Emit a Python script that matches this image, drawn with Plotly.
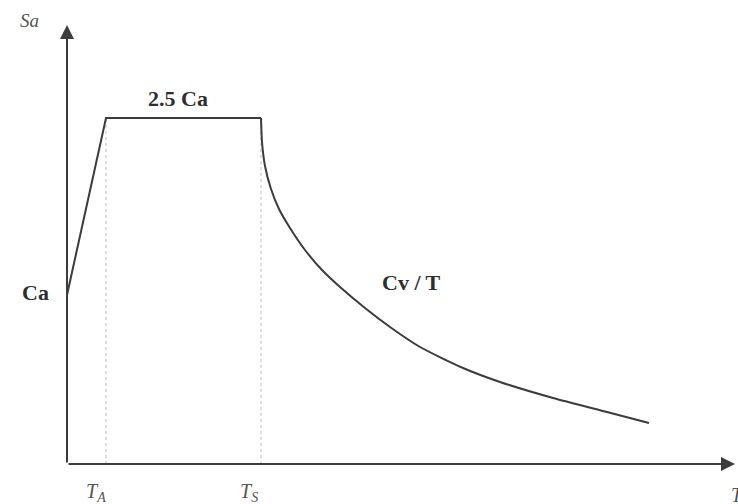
import plotly.graph_objects as go

# Design response spectrum (arbitrary units: period T vs spectral acceleration Sa)
ca_level = 1.69          # Sa at T = 0
plateau_level = 3.46     # 2.5 Ca
t_a = 0.39
t_s = 1.94

# Descending branch Cv / T, sampled points
curve_t = [1.94, 1.95, 1.98, 2.04, 2.12, 2.23, 2.38, 2.55, 2.73, 2.98, 3.23,
           3.53, 3.96, 4.33, 4.86, 5.40, 5.82]
curve_sa = [3.46, 3.22, 2.98, 2.75, 2.55, 2.36, 2.14, 1.94, 1.77, 1.56, 1.37,
            1.17, 0.96, 0.82, 0.66, 0.52, 0.41]

x_end = 6.68
y_end = 4.39

line_col = "#3c3c3c"
text_col = "#2e2e2e"
serif = "Liberation Serif, Times New Roman, serif"

fig = go.Figure()

# Guide lines at T_A and T_S
for t in (t_a, t_s):
    fig.add_trace(go.Scatter(x=[t, t], y=[0, plateau_level], mode="lines",
                             line=dict(color="#c9c9c9", width=1.2, dash="dot"),
                             hoverinfo="skip", showlegend=False))

# Rising branch and plateau
fig.add_trace(go.Scatter(x=[0, t_a, t_s], y=[ca_level, plateau_level, plateau_level],
                         mode="lines", line=dict(color=line_col, width=2),
                         showlegend=False))

# Cv / T branch
fig.add_trace(go.Scatter(x=curve_t, y=curve_sa, mode="lines",
                         line=dict(color=line_col, width=2, shape="spline", smoothing=0.6),
                         showlegend=False))

# Axes drawn as arrows
fig.add_annotation(x=x_end, y=0, ax=0, ay=0, xref="x", yref="y", axref="x", ayref="y",
                   text="", showarrow=True, arrowhead=2, arrowsize=1.4, arrowwidth=2,
                   arrowcolor=line_col)
fig.add_annotation(x=0, y=y_end, ax=0, ay=0, xref="x", yref="y", axref="x", ayref="y",
                   text="", showarrow=True, arrowhead=2, arrowsize=1.4, arrowwidth=2,
                   arrowcolor=line_col)

labels = [
    dict(x=-0.38, y=4.44, text="<i>Sa</i>", size=19, color="#555555"),
    dict(x=1.11, y=3.66, text="<b>2.5 Ca</b>", size=22, color=text_col),
    dict(x=-0.32, y=1.72, text="<b>Ca</b>", size=22, color=text_col),
    dict(x=3.44, y=1.82, text="<b>Cv / T</b>", size=22, color=text_col),
    dict(x=0.29, y=-0.28, text="<i>T<sub>A</sub></i>", size=20, color="#555555"),
    dict(x=1.82, y=-0.28, text="<i>T<sub>S</sub></i>", size=20, color="#555555"),
    dict(x=6.70, y=-0.31, text="<i>T</i>", size=20, color="#555555"),
]
for lb in labels:
    fig.add_annotation(x=lb["x"], y=lb["y"], xref="x", yref="y", text=lb["text"],
                       showarrow=False, font=dict(family=serif, size=lb["size"], color=lb["color"]))

fig.update_layout(
    width=738, height=504,
    margin=dict(l=0, r=0, t=0, b=0),
    paper_bgcolor="white", plot_bgcolor="white",
    xaxis=dict(range=[-0.67, 6.71], visible=False, fixedrange=True),
    yaxis=dict(range=[-0.40, 4.64], visible=False, fixedrange=True),
)

fig.write_html("out.html")
